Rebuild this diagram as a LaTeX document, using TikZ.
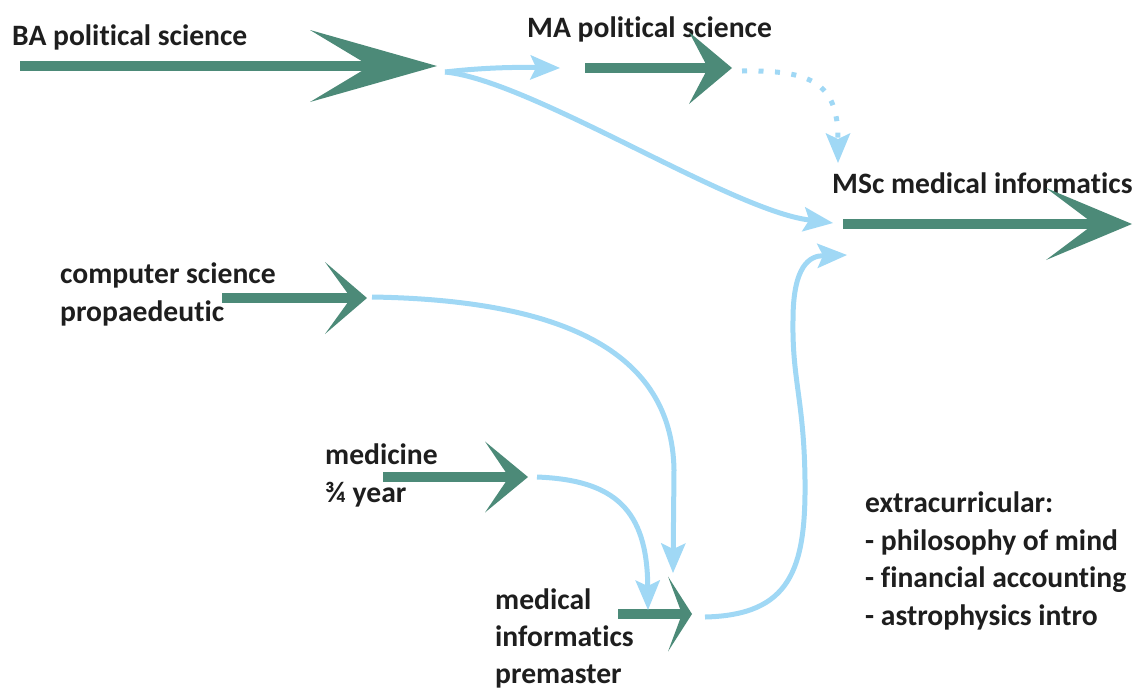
\documentclass[tikz,border=0pt]{standalone}
\usepackage{fontspec}
\setmainfont{Carlito}[Ligatures=NoCommon]
\usetikzlibrary{arrows.meta}
\definecolor{gr}{HTML}{4C8A78}
\definecolor{lb}{HTML}{A0D8F5}
\definecolor{tx}{HTML}{1E1E1E}
\begin{document}
\begin{tikzpicture}[x=1pt,y=-1pt,
  lbl/.style={font=\fontsize{29.6}{37.5}\selectfont\bfseries, text=tx, inner sep=0pt, align=left, anchor=base west},
  prelbl/.style={lbl, font=\fontsize{29.6}{37}\selectfont\bfseries},
  greenline/.style={draw=gr, line width=9.5pt},
  blueline/.style={draw=lb, line width=5pt, -{Stealth[length=30pt,width=25pt,inset=6pt,line width=0pt]}},
]
\useasboundingbox (0,0) rectangle (1135,689);

% labels (multi-line nodes: base = baseline of last line)
\node[lbl] (ba)  at (12,45)  {BA political science};
\node[lbl] (ma)  at (527,37) {MA political science};
\node[lbl] (msc) at (832,193) {MSc medical informatics};
\node[lbl] (cs)  at (60,321) {computer science\\propaedeutic};
\node[lbl] (med) at (325,502) {medicine\\¾ year};
\node[prelbl] (pre) at (495,683) {medical\\informatics\\premaster};
\node[lbl] (ex)  at (865,625) {extracurricular:\\- philosophy of mind\\- financial accounting\\- astrophysics intro};

% green arrows
\coordinate (ba-s) at (20,66);   \coordinate (ba-e) at (437,66);
\coordinate (ma-s) at (585,68);  \coordinate (ma-e) at (732,68);
\coordinate (msc-s) at (843,224); \coordinate (msc-e) at (1132,224);
\coordinate (cs-s) at (222,298); \coordinate (cs-e) at (367,298);
\coordinate (med-s) at (383,477); \coordinate (med-e) at (528,477);
\coordinate (pre-s) at (618,614); \coordinate (pre-e) at (692,614);

\draw[greenline, -{Stealth[length=127pt,width=72pt,inset=60pt,line width=0pt]}] (ba-s) -- (ba-e);
\draw[greenline, -{Stealth[length=43pt,width=72pt,inset=19pt,line width=0pt]}] (ma-s) -- (ma-e);
\draw[greenline, -{Stealth[length=86pt,width=72pt,inset=48pt,line width=0pt]}] (msc-s) -- (msc-e);
\draw[greenline, -{Stealth[length=42pt,width=72pt,inset=26pt,line width=0pt]}] (cs-s) -- (cs-e);
\draw[greenline, -{Stealth[length=43pt,width=71pt,inset=24pt,line width=0pt]}] (med-s) -- (med-e);
\draw[greenline, -{Stealth[length=24pt,width=75pt,inset=14pt,line width=0pt]}] (pre-s) -- (pre-e);

% blue connectors
\coordinate (ba-out) at (445,72);
\coordinate (ma-in) at (560,68);
\coordinate (msc-in1) at (833,223);
\coordinate (ma-out) at (742,71);
\coordinate (msc-top) at (838,163);
\coordinate (cs-out) at (372,297);
\coordinate (pre-in1) at (673,573);
\coordinate (med-out) at (537,477);
\coordinate (pre-in2) at (648,610);
\coordinate (pre-out) at (705,617);
\coordinate (msc-in2) at (847,255);

\draw[blueline] (ba-out) .. controls (480,68) and (510,67) .. (ma-in);
\draw[blueline] (ba-out) .. controls (530,80) and (730,210) .. (msc-in1);
\draw[blueline, dash pattern=on 5pt off 11.5pt] (ma-out) .. controls (810,70) and (838,82) .. (msc-top);
\draw[blueline] (cs-out) .. controls (560,300) and (672,350) .. (674,470) -- (pre-in1);
\draw[blueline] (med-out) .. controls (615,480) and (647,510) .. (pre-in2);
\draw[blueline] (pre-out) .. controls (790,615) and (806,570) .. (805,480)
  .. controls (804,400) and (792,380) .. (793,320)
  .. controls (793,265) and (810,256) .. (msc-in2);
\end{tikzpicture}
\end{document}
